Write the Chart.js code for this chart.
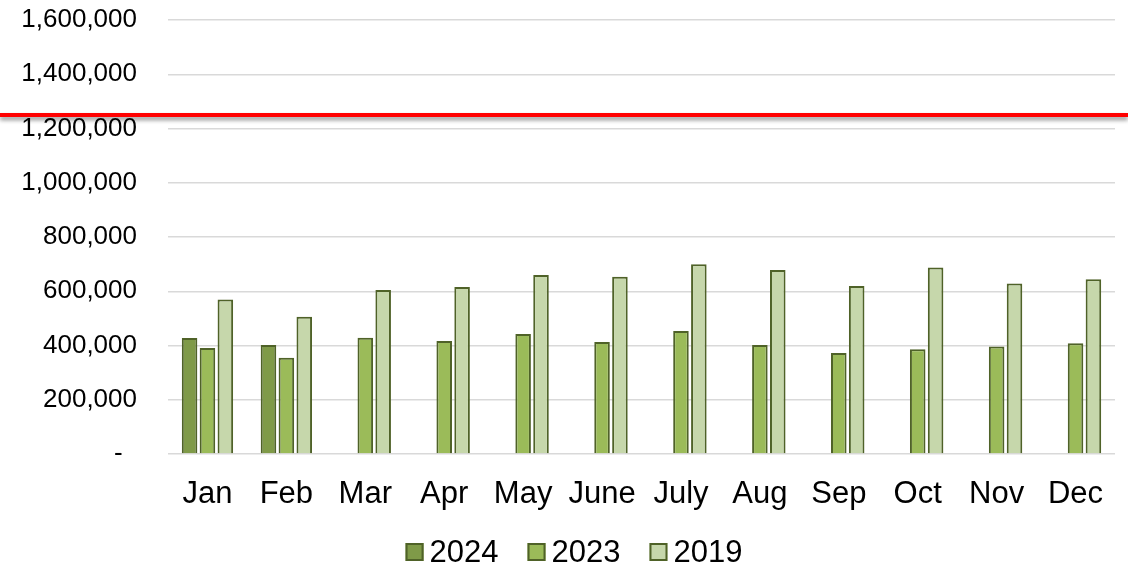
<!DOCTYPE html>
<html lang="en">
<head>
  <meta charset="UTF-8">
  <title>Monthly comparison 2024 / 2023 / 2019</title>
  <script src="https://cdn.jsdelivr.net/npm/chart.js"></script>
  <style>
    body {
      margin: 0;
      background: #ffffff;
    }
    #wrap {
      width: 1128px;
      height: 568px;
    }
  </style>
</head>
<body>
  <div id="wrap"><canvas id="chart" width="1128" height="568"></canvas></div>

  <script>
    const months = ['Jan', 'Feb', 'Mar', 'Apr', 'May', 'June', 'July', 'Aug', 'Sep', 'Oct', 'Nov', 'Dec'];
    const values2024 = [428000, 402000, null, null, null, null, null, null, null, null, null, null];
    const values2023 = [391000, 355000, 429000, 417000, 442000, 413000, 453000, 402000, 372000, 386000, 396000, 408000];
    const values2019 = [570000, 506000, 605000, 616000, 660000, 653000, 700000, 678000, 619000, 688000, 629000, 644000];
    const yMax = 1600000;
    const yStep = 200000;
    const markerValue = 1250000; // red reference line

    const font = 'Arial, "Liberation Sans", sans-serif';

    // red line across the whole picture, with a soft shadow under it
    const markerLine = {
      id: 'markerLine',
      afterDraw(chart) {
        const y = chart.scales.y.getPixelForValue(markerValue);
        const ctx = chart.ctx;
        ctx.save();
        ctx.shadowColor = 'rgba(0,0,0,0.45)';
        ctx.shadowBlur = 4;
        ctx.shadowOffsetY = 3;
        ctx.strokeStyle = '#ff0000';
        ctx.lineWidth = 4;
        ctx.beginPath();
        ctx.moveTo(0, y);
        ctx.lineTo(chart.width, y);
        ctx.stroke();
        ctx.restore();
      }
    };

    // Excel-like legend: small box, short gap, centred under the plot
    const bottomLegend = {
      id: 'bottomLegend',
      afterDraw(chart) {
        const ctx = chart.ctx;
        const sets = chart.data.datasets;
        const box = 18, gap = 6, spacing = 29, cy = 552;
        ctx.save();
        ctx.font = '31px ' + font;
        ctx.textBaseline = 'middle';
        const widths = sets.map(d => box + gap + ctx.measureText(d.label).width);
        const total = widths.reduce((a, b) => a + b, 0) + spacing * (sets.length - 1);
        let x = 574 - total / 2;
        sets.forEach((d, i) => {
          ctx.fillStyle = d.backgroundColor;
          ctx.fillRect(x, cy - box / 2, box, box);
          ctx.strokeStyle = d.borderColor;
          ctx.lineWidth = 2;
          ctx.strokeRect(x + 1, cy - box / 2 + 1, box - 2, box - 2);
          ctx.fillStyle = '#000000';
          ctx.fillText(d.label, x + box + gap, cy + 1);
          x += widths[i] + spacing;
        });
        ctx.restore();
      }
    };

    const ctx = document.getElementById('chart').getContext('2d');
    new Chart(ctx, {
      type: 'bar',
      data: {
        labels: months,
        datasets: [
          { label: '2024', data: values2024, backgroundColor: '#7f9a48', borderColor: '#4f6228', borderWidth: 2 },
          { label: '2023', data: values2023, backgroundColor: '#9bbb59', borderColor: '#4f6228', borderWidth: 2 },
          { label: '2019', data: values2019, backgroundColor: '#c6d7ab', borderColor: '#4f6228', borderWidth: 2 }
        ]
      },
      plugins: [markerLine, bottomLegend],
      options: {
        responsive: false,
        animation: false,
        layout: { padding: { top: 20, right: 13, bottom: 39, left: 0 } },
        datasets: {
          bar: { categoryPercentage: 0.68, barPercentage: 0.87 }
        },
        plugins: {
          legend: { display: false },
          tooltip: { enabled: false }
        },
        scales: {
          x: {
            grid: { display: false },
            border: { display: false },
            ticks: {
              color: '#000000',
              font: { family: font, size: 31 },
              padding: 14,
              maxRotation: 0
            },
            afterFit(scale) { scale.height = 75; }
          },
          y: {
            min: 0,
            max: yMax,
            // invisible tick marks keep the labels away from the plot
            grid: { color: '#d9d9d9', lineWidth: 1.5, drawTicks: true, tickLength: 31, tickColor: 'rgba(0,0,0,0)' },
            border: { display: false },
            ticks: {
              stepSize: yStep,
              color: '#000000',
              font: { family: font, size: 26 },
              padding: 0,
              callback: v => v === 0 ? '-  ' : v.toLocaleString('en-US')
            },
            afterFit(scale) { scale.width = 168; }
          }
        }
      }
    });
  </script>
</body>
</html>
